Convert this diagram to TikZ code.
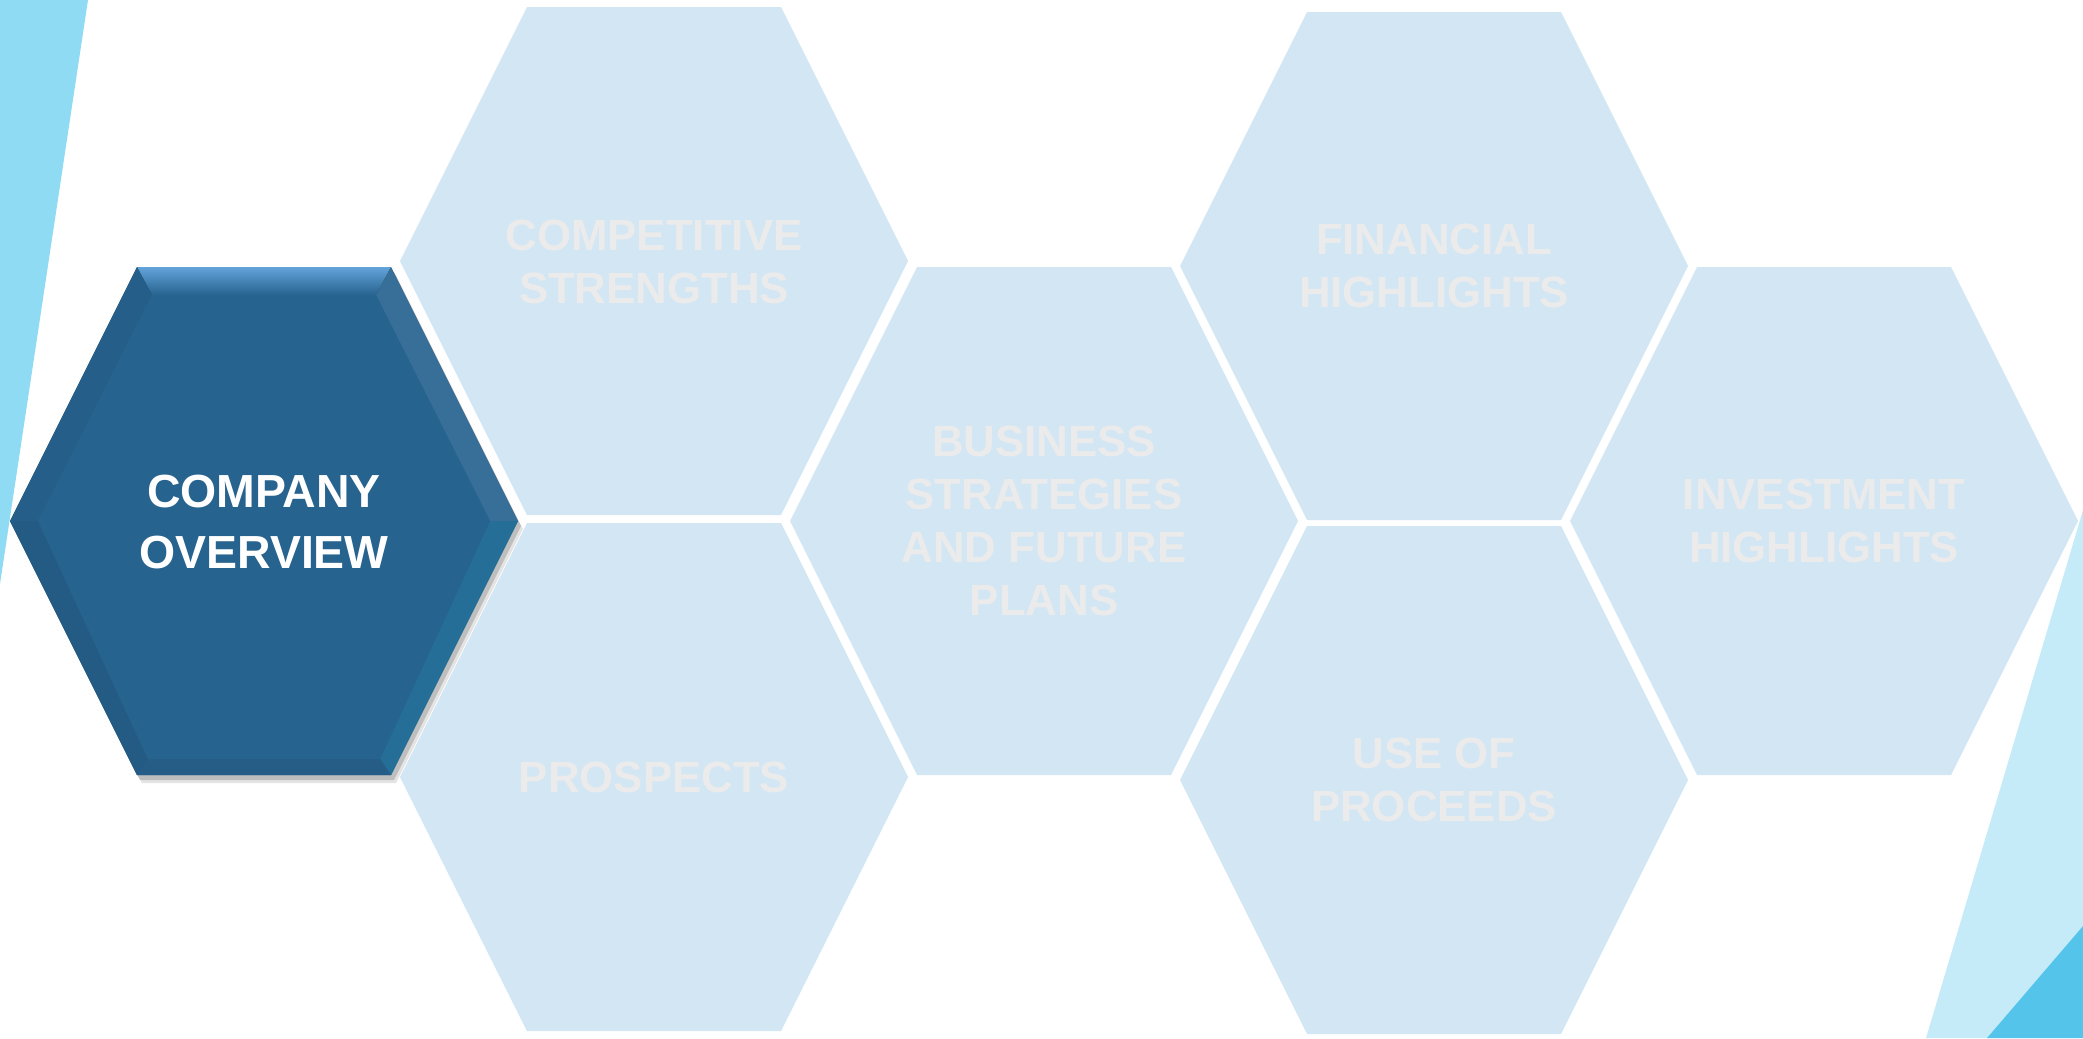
\documentclass[tikz,border=0pt]{standalone}
\usepackage{fontspec}
\setmainfont{Liberation Sans}
\definecolor{hexlight}{HTML}{D3E6F4}
\definecolor{txtlight}{HTML}{EBEBEB}
\definecolor{hexdark}{HTML}{27638F}
\definecolor{bevtop}{HTML}{62A3DA}
\definecolor{tricyan}{HTML}{8EDBF3}
\definecolor{tripale}{HTML}{C5EBF8}
\definecolor{triblue}{HTML}{55C4EA}
\newcommand\hexat[2]{(#1-254,#2) -- (#1-127,#2-254) -- (#1+127,#2-254) -- (#1+254,#2) -- (#1+127,#2+254) -- (#1-127,#2+254) -- cycle}
\tikzset{
  lighthex/.style={fill=hexlight},
  hextext/.style={font=\fontsize{12.45}{15.1}\selectfont\bfseries, align=center, text=txtlight, inner sep=0pt},
  darktext/.style={font=\fontsize{13.2}{17.1}\selectfont\bfseries, align=center, text=white, inner sep=0pt}
}
\begin{document}
\begin{tikzpicture}[x=0.01cm,y=-0.01cm]
\useasboundingbox (0,0) rectangle (2083,1038);
% corner triangles
\fill[tricyan] (0,0) -- (88,0) -- (0,584) -- cycle;
\fill[tripale] (2083,510) -- (2083,1038) -- (1926,1038) -- cycle;
\fill[triblue] (2083,926) -- (2083,1038) -- (1987,1038) -- cycle;
% shadow of the dark hexagon
\fill[black!30, opacity=0.35] \hexat{269}{529};
\fill[black!40, opacity=0.5] \hexat{267}{526};
% light hexagons
\fill[lighthex] \hexat{654}{261};
\fill[lighthex] \hexat{654}{777};
\fill[lighthex] \hexat{1044}{521};
\fill[lighthex] \hexat{1434}{266};
\fill[lighthex] \hexat{1434}{780};
\fill[lighthex] \hexat{1824}{521};
% dark hexagon with soft bevel
\def\cx{264}\def\cy{521}
\fill[hexdark] \hexat{\cx}{\cy};
\fill[top color=bevtop, bottom color=hexdark]
  (\cx-127,\cy-254) -- (\cx+127,\cy-254) -- (\cx+112,\cy-226) -- (\cx-112,\cy-226) -- cycle;
\fill[hexdark!96!black] (\cx-127,\cy-254) -- (\cx-112,\cy-226) -- (\cx-226,\cy) -- (\cx-254,\cy) -- cycle;
\fill[hexdark!92!white] (\cx+127,\cy-254) -- (\cx+254,\cy) -- (\cx+226,\cy) -- (\cx+112,\cy-226) -- cycle;
\fill[hexdark!93!cyan] (\cx+254,\cy) -- (\cx+127,\cy+254) -- (\cx+116,\cy+238) -- (\cx+226,\cy) -- cycle;
\fill[hexdark!92!black] (\cx-254,\cy) -- (\cx-226,\cy) -- (\cx-116,\cy+238) -- (\cx-127,\cy+254) -- cycle;
\fill[hexdark!94!black] (\cx-127,\cy+254) -- (\cx+127,\cy+254) -- (\cx+116,\cy+238) -- (\cx-116,\cy+238) -- cycle;
\fill[hexdark] (\cx-112,\cy-226) -- (\cx+112,\cy-226) -- (\cx+226,\cy) -- (\cx+116,\cy+238) -- (\cx-116,\cy+238) -- (\cx-226,\cy) -- cycle;
% texts
\node[darktext] (co) at (264,522) {COMPANY\\OVERVIEW};
\node[hextext] (cs) at (654,262) {COMPETITIVE\\STRENGTHS};
\node[hextext] (pr) at (654,777) {PROSPECTS};
\node[hextext] (bs) at (1044,521) {BUSINESS\\STRATEGIES\\AND FUTURE\\PLANS};
\node[hextext] (fh) at (1434,266) {FINANCIAL\\HIGHLIGHTS};
\node[hextext] (up) at (1434,780) {USE OF\\PROCEEDS};
\node[hextext] (ih) at (1824,521) {INVESTMENT\\HIGHLIGHTS};
\end{tikzpicture}
\end{document}
